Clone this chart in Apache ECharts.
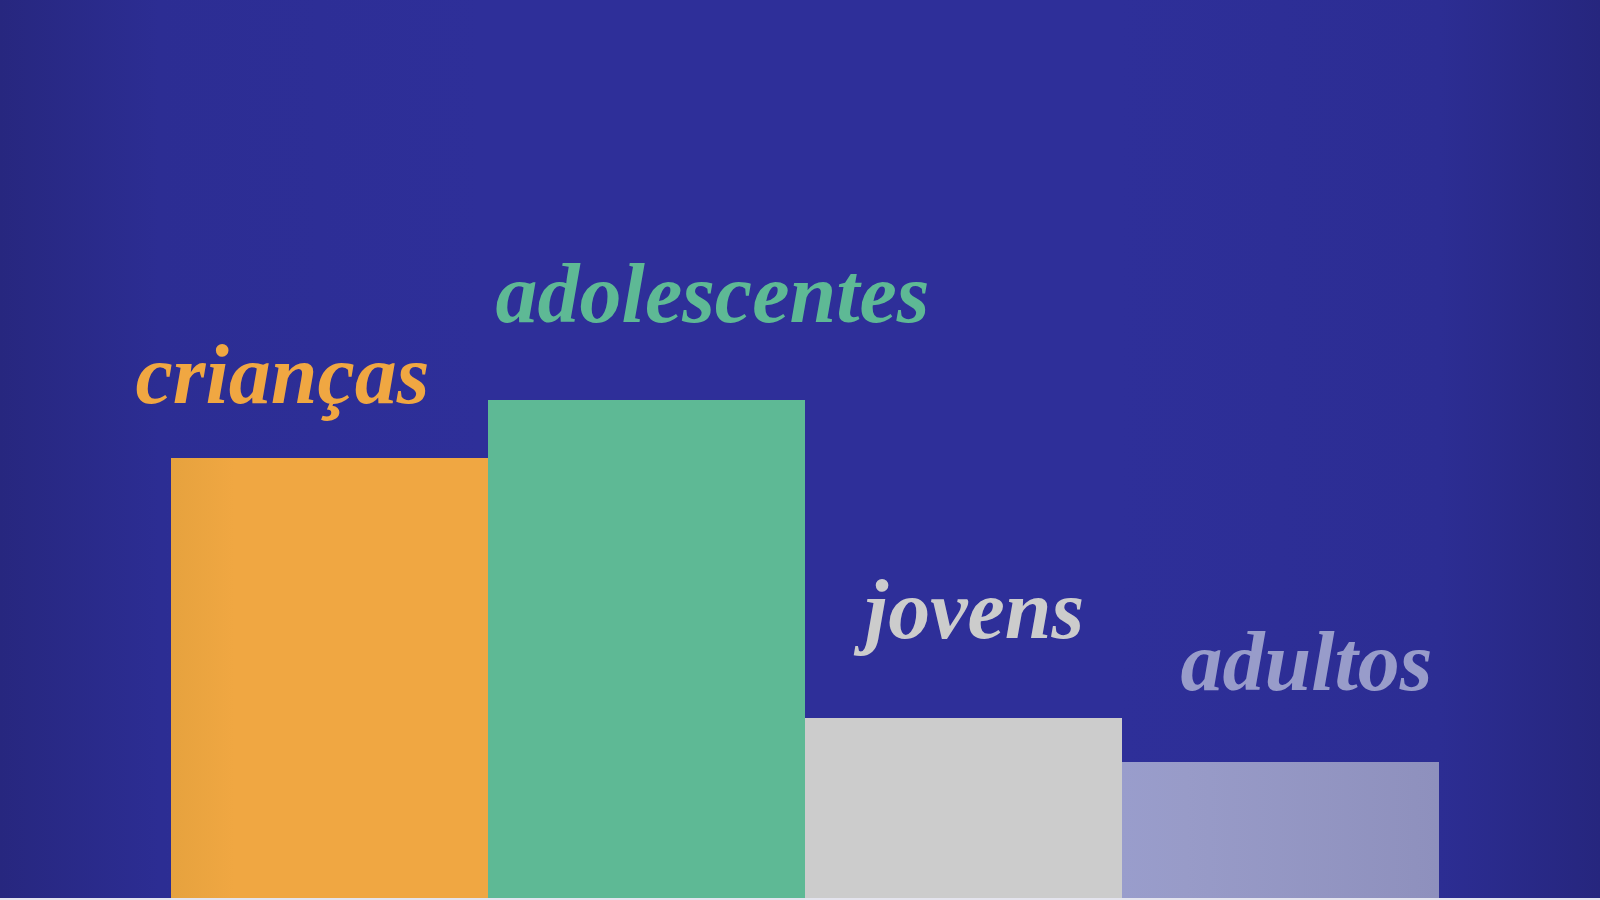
<!DOCTYPE html>
<html>
<head>
<meta charset="utf-8">
<script src="https://cdn.jsdelivr.net/npm/echarts@6/dist/echarts.min.js"></script>
<style>
html,body{margin:0;padding:0;background:#e4e4ee;}
#chart{width:1600px;height:898px;}
</style>
</head>
<body>
<div id="chart"></div>
<script>
// Data
const categories = ['crianças', 'adolescentes', 'jovens', 'adultos'];
const values = [44, 49.8, 18, 13.6];

// Styling (not data)
const barColors = [
  ['#e6a23e', '#f0a742', '#f0a742'],
  ['#5eb995', '#5eb995', '#5eb995'],
  ['#cccccc', '#cccccc', '#cccccc'],
  ['#999dcc', '#989bc8', '#8e90bd']
];
const labelColors = ['#f0a742', '#5eb995', '#cccccc', '#989cca'];
const labelOffsets = [[-47, -30], [66, -53], [11, -55], [26, -47]];

const chart = echarts.init(document.getElementById('chart'));
chart.setOption({
  backgroundColor: {
    type: 'linear', x: 0, y: 0, x2: 1, y2: 0,
    colorStops: [
      {offset: 0, color: '#27277f'},
      {offset: 0.1, color: '#2c2d93'},
      {offset: 0.3, color: '#2e2f99'},
      {offset: 0.7, color: '#2e2f99'},
      {offset: 0.9, color: '#2c2d93'},
      {offset: 1, color: '#26267e'}
    ]
  },
  animation: false,
  grid: {left: 171, right: 161, top: 98, bottom: 0},
  xAxis: {
    type: 'category', data: categories,
    axisLine: {show: false}, axisTick: {show: false}, axisLabel: {show: false}
  },
  yAxis: {
    type: 'value', min: 0, max: 80,
    show: false, splitLine: {show: false}
  },
  series: [{
    type: 'bar',
    barCategoryGap: 0,
    barGap: 0,
    data: values.map((v, i) => ({
      value: v,
      itemStyle: {
        color: {
          type: 'linear', x: 0, y: 0, x2: 1, y2: 0,
          colorStops: [
            {offset: 0, color: barColors[i][0]},
            {offset: 0.2, color: barColors[i][1]},
            {offset: 1, color: barColors[i][2]}
          ]
        }
      },
      label: {
        show: true,
        position: 'top',
        offset: labelOffsets[i],
        formatter: categories[i],
        color: labelColors[i],
        fontFamily: 'Liberation Serif',
        fontStyle: 'italic',
        fontWeight: 'bold',
        fontSize: 84
      }
    }))
  }]
});
</script>
</body>
</html>
